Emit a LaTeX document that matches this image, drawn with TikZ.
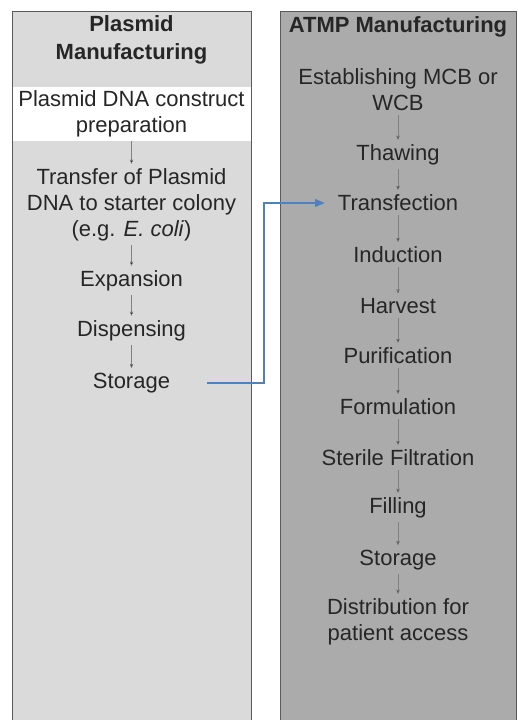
\documentclass[tikz,border=0pt]{standalone}
\usepackage{fontspec}
\setmainfont{Liberation Sans}
\usetikzlibrary{arrows}

\definecolor{plasmidgray}{HTML}{DADADA}
\definecolor{atmpgray}{HTML}{ABABAB}
\definecolor{framegray}{HTML}{5A5A5A}
\definecolor{linkblue}{HTML}{4F81BD}
\definecolor{inkgray}{HTML}{262626}

\tikzset{
  stage/.style={align=center, inner sep=4pt, text=inkgray, font=\fontsize{22}{26}\selectfont},
  heading/.style={align=center, inner sep=4pt, text=inkgray, font=\fontsize{22}{28}\selectfont\bfseries},
  lane/.style={draw=framegray, line width=0.8pt},
  flow/.style={->, draw=gray, line width=0.5pt, shorten >=1pt},
  link/.style={->, draw=linkblue, line width=1.2pt, >=triangle 45},
}

\begin{document}
\begin{tikzpicture}[x=1pt, y=-1pt, >=stealth', node distance=51pt]
  \useasboundingbox (0,0) rectangle (517,720);
  \draw[lane, fill=plasmidgray] (12,11) rectangle (251,726);
  \draw[lane, fill=atmpgray] (280,11) rectangle (516,726);

  % plasmid side
  \node[heading] (ltitle) at (131.5,40) {Plasmid\\Manufacturing};
  \node[stage, fill=white, minimum width=238pt, minimum height=52pt] (prep) at (131.5,114) {Plasmid DNA construct\\preparation};
  \node[stage, node distance=91pt, below of=prep] (transfer) {Transfer of Plasmid\\DNA to starter colony\\(e.g. \textit{E. coli})};
  \node[stage, node distance=76pt, below of=transfer] (expansion) {Expansion};
  \node[stage, node distance=50pt, below of=expansion] (dispensing) {Dispensing};
  \node[stage, node distance=52pt, below of=dispensing] (lstore) {Storage};

  % atmp side
  \node[heading] (rtitle) at (398,27) {ATMP Manufacturing};
  \node[stage] (mcb) at (398,90) {Establishing MCB or\\WCB};
  \node[stage, node distance=65pt, below of=mcb] (thaw) {Thawing};
  \node[stage, node distance=48pt, below of=thaw] (transf) {Transfection};
  \node[stage, node distance=52pt, below of=transf] (induction) {Induction};
  \node[stage, below of=induction] (harvest) {Harvest};
  \node[stage, node distance=50pt, below of=harvest] (purif) {Purification};
  \node[stage, below of=purif] (formul) {Formulation};
  \node[stage, below of=formul] (sterile) {Sterile Filtration};
  \node[stage, node distance=50pt, below of=sterile] (filling) {Filling};
  \node[stage, node distance=52pt, below of=filling] (rstore) {Storage};
  \node[stage, node distance=62pt, below of=rstore] (distrib) {Distribution for\\patient access};

  \path[flow]
    (prep) edge (transfer)
    (transfer) edge (expansion)
    (expansion) edge (dispensing)
    (dispensing) edge (lstore)
    (mcb) edge (thaw)
    (thaw) edge (transf)
    (transf) edge (induction)
    (induction) edge (harvest)
    (harvest) edge (purif)
    (purif) edge (formul)
    (formul) edge (sterile)
    (sterile) edge (filling)
    (filling) edge (rstore)
    (rstore) edge (distrib)
    ;

  \coordinate (jog) at (264,0 |- transf.west);
  \draw[link, shorten <=33pt, shorten >=9pt] (lstore.east) -| (jog) -- (transf.west);
\end{tikzpicture}
\end{document}
